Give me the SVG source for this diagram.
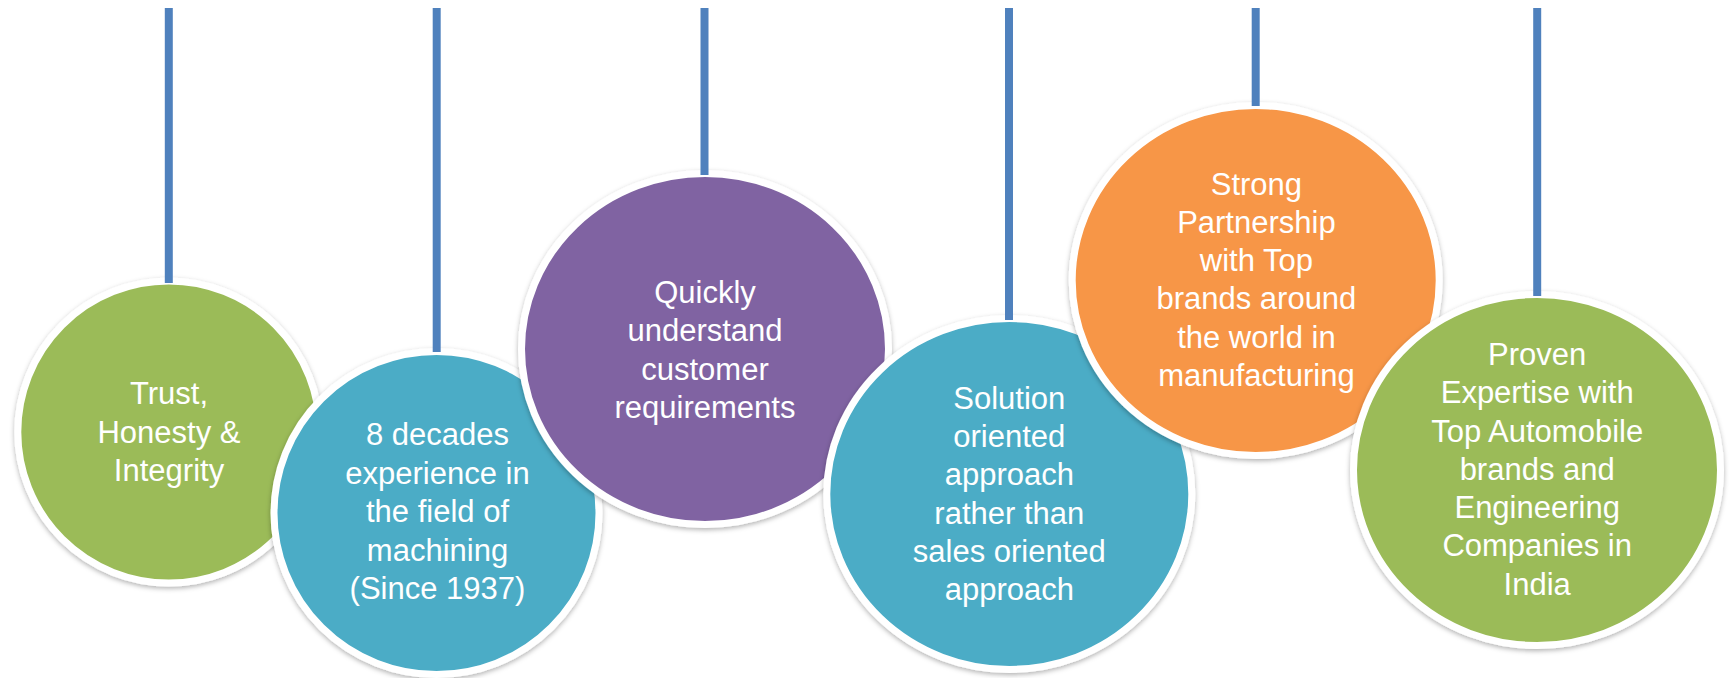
<svg xmlns="http://www.w3.org/2000/svg" width="1729" height="678" viewBox="0 0 1729 678">
<defs>
<filter id="sh" x="-10%" y="-10%" width="120%" height="120%">
<feDropShadow dx="0" dy="2" stdDeviation="2.5" flood-color="#000" flood-opacity="0.3"/>
</filter>
</defs>
<style>
.c{stroke:#fff;stroke-width:7;filter:url(#sh)}
.g{fill:#9BBB59}.t{fill:#4BACC6}.p{fill:#8064A2}.o{fill:#F79646}
.l{stroke:#4F81BD;stroke-width:8}
text{font-family:"Liberation Sans",Arial,sans-serif;font-size:31px;fill:#fff;text-anchor:middle}
</style>
<rect width="1729" height="678" fill="#fff"/>
<g id="node1">
<ellipse class="c g" cx="168.8" cy="432" rx="151" ry="151"/>
<text x="169" y="404">Trust,</text>
<text x="169" y="442.5">Honesty &amp;</text>
<text x="169" y="481">Integrity</text>
</g>
<g id="node2">
<ellipse class="c t" cx="436.5" cy="513" rx="162.5" ry="161.5"/>
<text x="437.5" y="445">8 decades</text>
<text x="437.5" y="483.6">experience in</text>
<text x="437.5" y="522.2">the field of</text>
<text x="437.5" y="560.8">machining</text>
<text x="437.5" y="599.4">(Since 1937)</text>
</g>
<g id="node3">
<ellipse class="c p" cx="705" cy="349" rx="183.5" ry="175.5"/>
<text x="705" y="302.6">Quickly</text>
<text x="705" y="341.2">understand</text>
<text x="705" y="379.8">customer</text>
<text x="705" y="418.4">requirements</text>
</g>
<g id="node4">
<ellipse class="c t" cx="1009.3" cy="494" rx="182.5" ry="175.5"/>
<text x="1009.3" y="408.6">Solution</text>
<text x="1009.3" y="446.9">oriented</text>
<text x="1009.3" y="485.2">approach</text>
<text x="1009.3" y="523.5">rather than</text>
<text x="1009.3" y="561.8">sales oriented</text>
<text x="1009.3" y="600.1">approach</text>
</g>
<g id="node5">
<ellipse class="c o" cx="1255.7" cy="280.5" rx="183.5" ry="175"/>
<text x="1256.4" y="194.5">Strong</text>
<text x="1256.4" y="232.8">Partnership</text>
<text x="1256.4" y="271.1">with Top</text>
<text x="1256.4" y="309.4">brands around</text>
<text x="1256.4" y="347.7">the world in</text>
<text x="1256.4" y="386">manufacturing</text>
</g>
<g id="node6">
<ellipse class="c g" cx="1537" cy="470" rx="183.5" ry="175.5"/>
<text x="1537.2" y="365">Proven</text>
<text x="1537.2" y="403.25">Expertise with</text>
<text x="1537.2" y="441.5">Top Automobile</text>
<text x="1537.2" y="479.75">brands and</text>
<text x="1537.2" y="518">Engineering</text>
<text x="1537.2" y="556.25">Companies in</text>
<text x="1537.2" y="594.5">India</text>
</g>
<g id="connectors">
<line class="l" x1="168.8" y1="8" x2="168.8" y2="283"/>
<line class="l" x1="436.7" y1="8" x2="436.7" y2="352"/>
<line class="l" x1="704.5" y1="8" x2="704.5" y2="175"/>
<line class="l" x1="1009" y1="8" x2="1009" y2="320"/>
<line class="l" x1="1255.7" y1="8" x2="1255.7" y2="106"/>
<line class="l" x1="1537.2" y1="8" x2="1537.2" y2="296"/>
</g>
</svg>
